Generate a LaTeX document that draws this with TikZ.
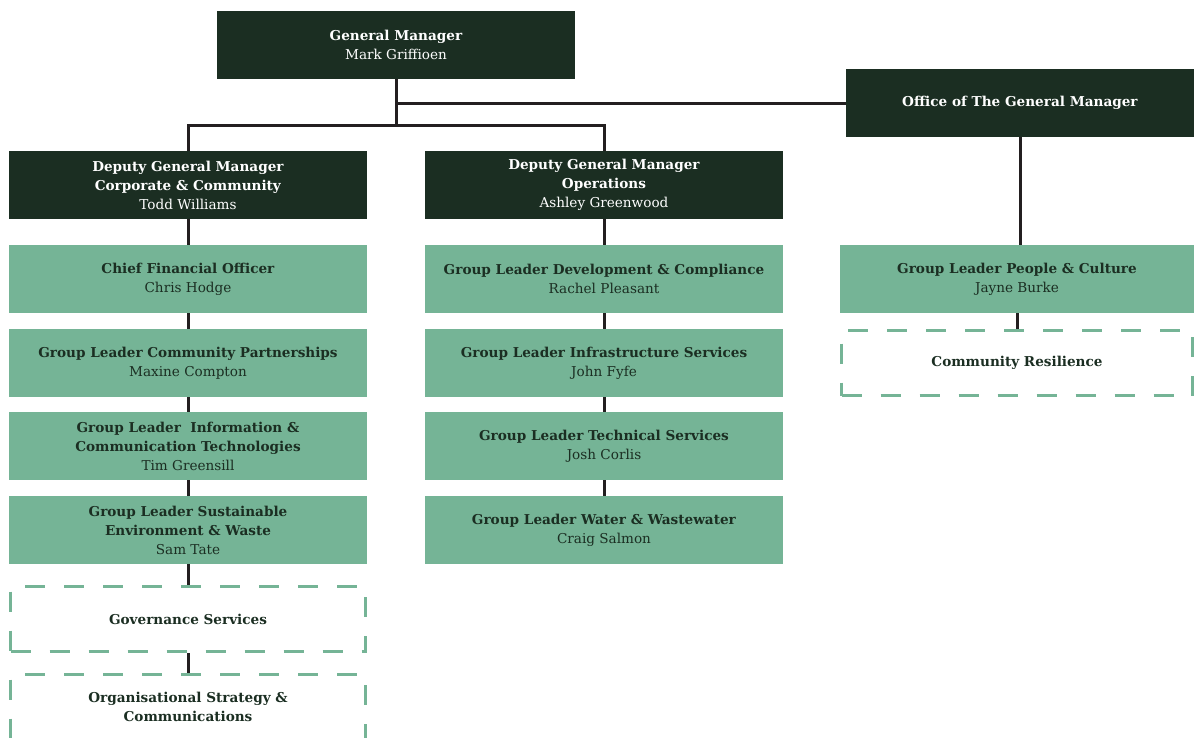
\documentclass[tikz,border=0pt]{standalone}
\usepackage{fontspec}
\setmainfont{DejaVu Serif}
\definecolor{pinegreen}{RGB}{27,46,34}
\definecolor{sagegreen}{RGB}{117,180,150}
\definecolor{linkgray}{RGB}{35,31,32}
\begin{document}
\begin{tikzpicture}[x=1pt,y=-1pt]
        \tikzstyle{hnode} = [fill=pinegreen, text=white, minimum width=358pt, minimum height=68pt, inner sep=0pt, align=center, font=\fontsize{13.6}{19}\selectfont]
        \tikzstyle{gnode} = [fill=sagegreen, text=pinegreen, minimum width=358pt, minimum height=68pt, inner sep=0pt, align=center, font=\fontsize{13.6}{19}\selectfont]
        \tikzstyle{dnode} = [draw=sagegreen, fill=white, text=pinegreen, line width=3pt, dash pattern=on 20pt off 19pt, dash phase=0pt, minimum width=355pt, minimum height=65pt, inner sep=0pt, align=center, font=\fontsize{13.6}{19}\selectfont\bfseries]
        \tikzstyle{link} = [draw=linkgray, line width=3pt]
        \useasboundingbox (0,0) rectangle (1194,737);

        % top level
        \node[hnode] (gm) at (396,45) {\textbf{General Manager}\\Mark Griffioen};
        \node[hnode, minimum width=348pt] (office) at (1020,103) {\textbf{Office of The General Manager}};
        \node[hnode] (dgmc) at (188,185) {\textbf{Deputy General Manager}\\\textbf{Corporate \& Community}\\Todd Williams};
        \node[hnode] (dgmo) at (604,185) {\textbf{Deputy General Manager}\\\textbf{Operations}\\Ashley Greenwood};

        % corporate & community
        \node[gnode] (cfo) at (188,279) {\textbf{Chief Financial Officer}\\Chris Hodge};
        \node[gnode] (comm) at (188,363) {\textbf{Group Leader Community Partnerships}\\Maxine Compton};
        \node[gnode] (ict) at (188,446) {\textbf{Group Leader~ Information \&}\\\textbf{Communication Technologies}\\Tim Greensill};
        \node[gnode] (env) at (188,530) {\textbf{Group Leader Sustainable}\\\textbf{Environment \& Waste}\\Sam Tate};
        \node[dnode] (gov) at (188,619) {Governance Services};
        \node[dnode] (org) at (188,707) {Organisational Strategy \&\\Communications};

        % operations
        \node[gnode] (dev) at (604,279) {\textbf{Group Leader Development \& Compliance}\\Rachel Pleasant};
        \node[gnode] (infra) at (604,363) {\textbf{Group Leader Infrastructure Services}\\John Fyfe};
        \node[gnode] (tech) at (604,446) {\textbf{Group Leader Technical Services}\\Josh Corlis};
        \node[gnode] (water) at (604,530) {\textbf{Group Leader Water \& Wastewater}\\Craig Salmon};

        % office of the general manager
        \node[gnode, minimum width=354pt] (people) at (1017,279) {\textbf{Group Leader People \& Culture}\\Jayne Burke};
        \node[dnode, minimum width=351pt] (resil) at (1017,363) {Community Resilience};

        \coordinate (fork) at (396,125);
        \draw[link] (gm) |- (office);
        \draw[link] (gm) -- (fork);
        \draw[link] (fork) -| (dgmc);
        \draw[link] (fork) -| (dgmo);
        \draw[link] (office) -- (office |- people.north);

        \draw[link] (dgmc) -- (cfo);
        \draw[link] (cfo) -- (comm);
        \draw[link] (comm) -- (ict);
        \draw[link] (ict) -- (env);
        \draw[link] (env) -- (gov);
        \draw[link] (gov) -- (org);

        \draw[link] (dgmo) -- (dev);
        \draw[link] (dev) -- (infra);
        \draw[link] (infra) -- (tech);
        \draw[link] (tech) -- (water);

        \draw[link] (people) -- (resil);
\end{tikzpicture}
\end{document}
